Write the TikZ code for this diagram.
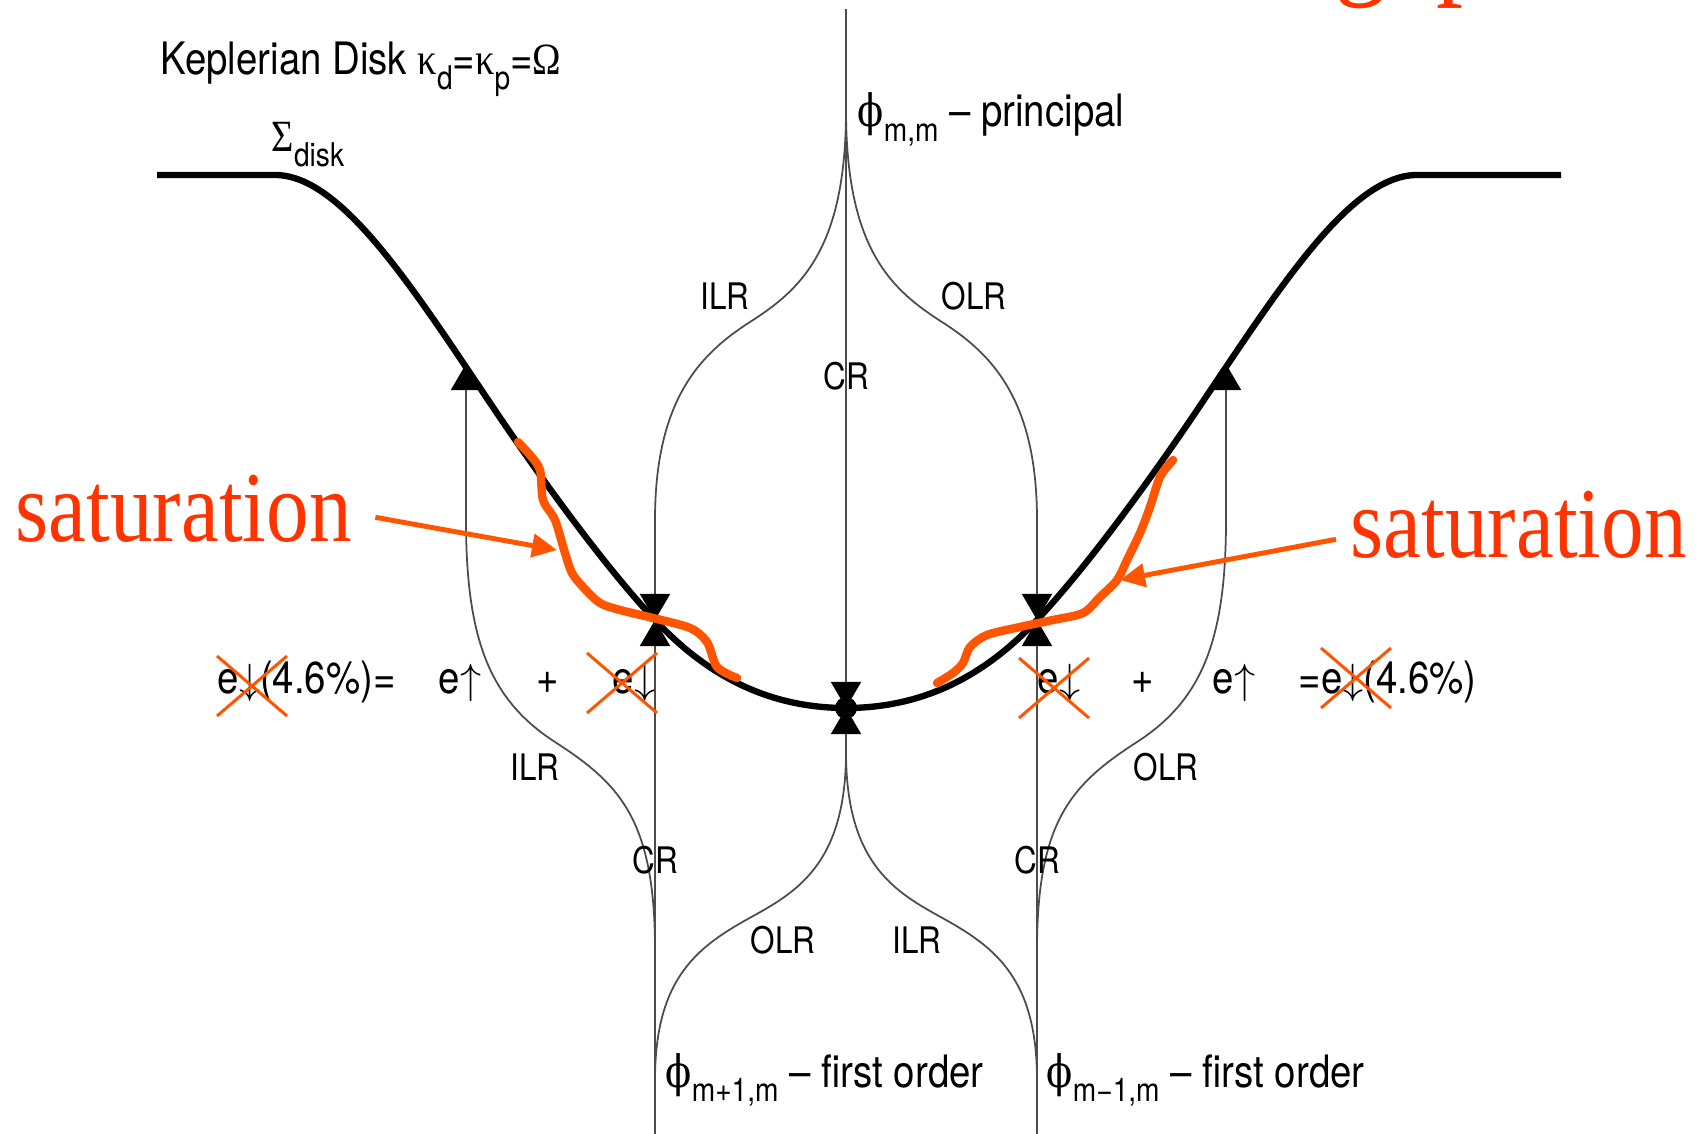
\documentclass[tikz,border=0pt]{standalone}
\usepackage{fontspec}
\setmainfont[FakeStretch=0.86]{TeX Gyre Heros}
\newfontfamily\grk[FakeStretch=0.86]{Liberation Serif}
\newfontfamily\phif[FakeStretch=0.86]{DejaVu Serif}
\newfontfamily\satf[FakeStretch=0.85]{Liberation Serif}
\usetikzlibrary{positioning,arrows.meta}
\definecolor{sattext}{RGB}{255,51,0}
\definecolor{satline}{RGB}{255,85,0}
\newcommand{\lsub}[1]{\raisebox{-0.33em}{\fontsize{9.3}{10}\selectfont #1}}
\newcommand{\satcross}[1]{\draw[satx] (#1) ++(-35,-30) -- ++(70,60) (#1) ++(-35,30) -- ++(70,-60);}
\tikzset{
  disk/.style={line width=1.8pt, line join=round},
  res/.style={black!70, line width=0.5pt},
  tip/.style={-{Triangle[width=3mm,length=2.6mm,black]}},
  lab/.style={font=\fontsize{12.7}{14}\selectfont, inner sep=0pt, anchor=base west},
  rl/.style={font=\fontsize{10.4}{12}\selectfont, inner sep=0pt},
  sat/.style={font=\satf\fontsize{28.5}{30}\selectfont, text=sattext, inner sep=0pt, anchor=base west},
  satcurve/.style={satline, line width=2.4pt, line join=round, line cap=round},
  satarrow/.style={satline, line width=1.4pt, -{Triangle[width=2.3mm,length=2.5mm]}},
  satx/.style={satline, line width=0.85pt}
}
\begin{document}
\begin{tikzpicture}[x=0.01cm, y=-0.01cm]
  \useasboundingbox (0,0) rectangle (1700,1134);
  % title, mostly off the page
  \begin{scope}
    \clip (0,0) rectangle (1700,1134);
    \node[font=\satf\fontsize{36}{40}\selectfont, text=sattext, anchor=base west, inner sep=0pt] (title) at (1334,-18) {gap};
  \end{scope}

  \coordinate (top) at (846,9);
  \coordinate (hc) at (846,708);
  \coordinate (lcusp) at (846,752);
  \coordinate (hl) at (655,620);
  \coordinate (hr) at (1037,620);
  \coordinate (tl) at (466,364);
  \coordinate (tr) at (1226,364);
  \coordinate (bl) at (655,1134);
  \coordinate (br) at (1037,1134);

  % resonance lines
  \draw[res,tip] (top) -- (hc);
  \draw[res,tip] (lcusp) -- (hc);
  \draw[res,tip] (846,110) .. controls (846,250) and (800,290) .. (750,322)
    .. controls (700,354) and (655,400) .. (655,520) -- (hl);
  \draw[res,tip] (846,110) .. controls (846,250) and (892,290) .. (942,322)
    .. controls (992,354) and (1037,400) .. (1037,520) -- (hr);
  \draw[res,tip] (bl) -- (hl);
  \draw[res,tip] (br) -- (hr);
  \draw[res] (lcusp) .. controls (846,860) and (800,890) .. (755,915)
    .. controls (700,945) and (655,975) .. (655,1080);
  \draw[res] (lcusp) .. controls (846,860) and (892,890) .. (937,915)
    .. controls (992,945) and (1037,975) .. (1037,1080);
  \draw[res,tip] (655,950) .. controls (655,820) and (620,784) .. (555,742)
    .. controls (490,700) and (466,640) .. (466,520) -- (tl);
  \draw[res,tip] (1037,950) .. controls (1037,820) and (1072,784) .. (1137,742)
    .. controls (1202,700) and (1226,640) .. (1226,520) -- (tr);
  \node[circle,fill,inner sep=0pt,minimum size=2.2mm] (hcdot) at (hc) {};

  % surface density
  \draw[disk] (157,175) -- (275,175) .. controls (345,175) and (420,300) .. (505,425)
    .. controls (555,498) and (610,572) .. (hl) .. controls (700,668) and (760,708) .. (hc)
    .. controls (932,708) and (992,668) .. (hr) .. controls (1082,572) and (1137,498) .. (1187,425)
    .. controls (1272,300) and (1347,175) .. (1417,175) -- (1561,175);

  % labels
  \node[lab] (kep) at (160,75) {Keplerian Disk {\grk κ}\lsub{d}={\grk κ}\lsub{p}={\grk Ω}};
  \node[lab] (sig) at (271,152) {{\grk Σ}\lsub{disk}};
  \node[lab] (pmm) at (857,127) {{\phif ϕ}\lsub{m,m} – principal};
  \node[lab] (pp) at (665,1087) {{\phif ϕ}\lsub{m+1,m} – first order};
  \node[lab] (pm) at (1046,1087) {{\phif ϕ}\lsub{m−1,m} – first order};

  \node[rl] (ilr1) at (725,296) {ILR};
  \node[rl] (olr1) at (974,296) {OLR};
  \node[rl] (cr1) at (846,376) {CR};
  \node[rl] (ilr2) at (535,767) {ILR};
  \node[rl] (cr2) at (655,860) {CR};
  \node[rl] (olr2) at (1166,767) {OLR};
  \node[rl] (cr3) at (1037,860) {CR};
  \node[rl] (olr3) at (783,940) {OLR};
  \node[rl] (ilr3) at (917,940) {ILR};

  \node[lab] (eqa) at (217,693) {e$\downarrow$(4.6\%)=};
  \node[lab] (eqb) at (438,693) {e$\uparrow$};
  \node[lab,anchor=base] (eqc) at (548,693) {+};
  \node[lab] (eqd) at (612,693) {e$\downarrow$};
  \node[lab] (eqe) at (1037,693) {e$\downarrow$};
  \node[lab,anchor=base] (eqf) at (1143,693) {+};
  \node[lab] (eqg) at (1212,693) {e$\uparrow$};
  \node[lab] (eqh) at (1298,693) {=e$\downarrow$(4.6\%)};

  % saturation
  \draw[satcurve] plot[smooth,tension=0.5] coordinates {(518,442) (530,455) (540,470) (543,500) (555,520)
    (565,553) (572,573) (583,587) (600,603) (620,610) (653,618) (690,628) (707,642) (717,667) (737,678)};
  \draw[satcurve] plot[smooth,tension=0.5] coordinates {(1173,460) (1160,477) (1150,507) (1140,533) (1127,560)
    (1117,580) (1100,597) (1083,613) (1053,620) (1020,627) (987,635) (970,647) (963,663) (953,673) (937,683)};
  \node[sat] (satl) at (15,542) {saturation};
  \node[sat] (satr) at (1350,558) {saturation};
  \coordinate (al) at (557,550);
  \coordinate (ar) at (1120,580);
  \draw[satarrow] ([shift={(23,8)}]satl.east) -- (al);
  \draw[satarrow] ([shift={(-14,14)}]satr.west) -- (ar);

  \satcross{252,686}
  \satcross{622,683}
  \satcross{1054,688}
  \satcross{1356,678}
\end{tikzpicture}
\end{document}
